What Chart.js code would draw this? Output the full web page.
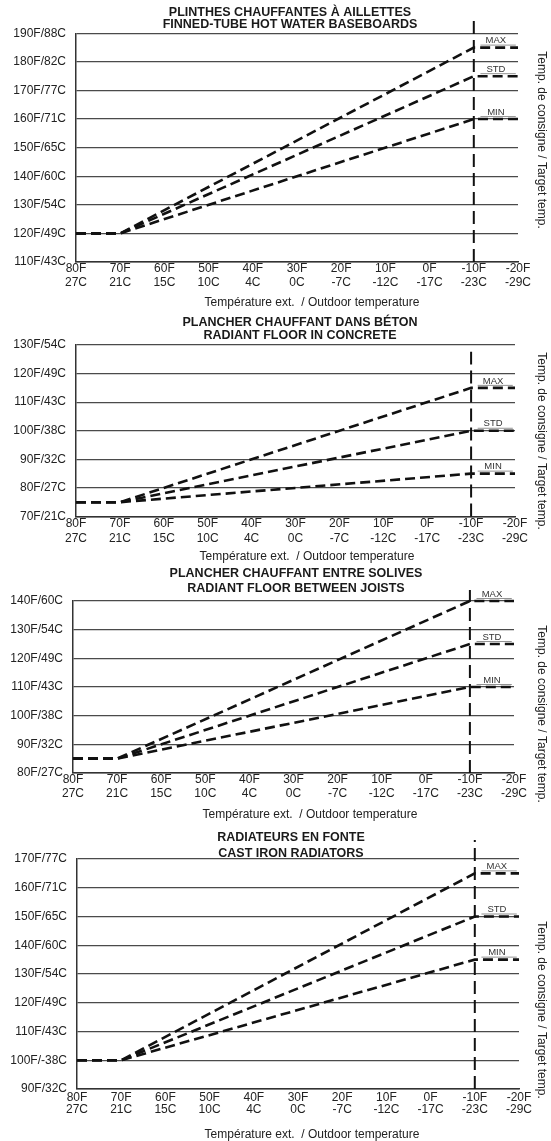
<!DOCTYPE html>
<html><head><meta charset="utf-8">
<script src="https://cdn.jsdelivr.net/npm/chart.js@4"></script>
<style>
html,body{margin:0;padding:0;background:#fff;}
body{width:551px;height:1141px;position:relative;overflow:hidden;}
.band{position:absolute;left:0;width:551px;}
canvas{display:block;}
</style></head><body>
<div class="band" style="top:0px"><canvas id="c1" width="551" height="312"></canvas></div>
<div class="band" style="top:312px"><canvas id="c2" width="551" height="253"></canvas></div>
<div class="band" style="top:565px"><canvas id="c3" width="551" height="260"></canvas></div>
<div class="band" style="top:825px"><canvas id="c4" width="551" height="316"></canvas></div>
<script>
// ---------- shared axis data ----------
const outdoorF = [80, 70, 60, 50, 40, 30, 20, 10, 0, -10, -20];
const outdoorFLabels = ['80F','70F','60F','50F','40F','30F','20F','10F','0F','-10F','-20F'];
const outdoorCLabels = ['27C','21C','15C','10C','4C','0C','-7C','-12C','-17C','-23C','-29C'];
const curveX = [80, 70, -10, -20];
const designTempF = -10;
const seriesNames = ['MAX', 'STD', 'MIN'];
const xAxisTitle = 'Température ext.  / Outdoor temperature';
const yAxisTitle = 'Temp. de consigne / Target temp.';

// ---------- chart 1 ----------
const baseTitle = ['PLINTHES CHAUFFANTES À AILLETTES', 'FINNED-TUBE HOT WATER BASEBOARDS'];
const baseTicks = [110, 120, 130, 140, 150, 160, 170, 180, 190];
const baseTickLabels = ['110F/43C','120F/49C','130F/54C','140F/60C','150F/65C','160F/71C','170F/77C','180F/82C','190F/88C'];
const baseMax = [120, 120, 185, 185];
const baseStd = [120, 120, 175, 175];
const baseMin = [120, 120, 160, 160];
const baseDesignTop = 195.3;

// ---------- chart 2 ----------
const concTitle = ['PLANCHER CHAUFFANT DANS BÉTON', 'RADIANT FLOOR IN CONCRETE'];
const concTicks = [70, 80, 90, 100, 110, 120, 130];
const concTickLabels = ['70F/21C','80F/27C','90F/32C','100F/38C','110F/43C','120F/49C','130F/54C'];
const concMax = [75, 75, 115, 115];
const concStd = [75, 75, 100, 100];
const concMin = [75, 75, 85, 85];
const concDesignTop = 127.6;

// ---------- chart 3 ----------
const joistTitle = ['PLANCHER CHAUFFANT ENTRE SOLIVES', 'RADIANT FLOOR BETWEEN JOISTS'];
const joistTicks = [80, 90, 100, 110, 120, 130, 140];
const joistTickLabels = ['80F/27C','90F/32C','100F/38C','110F/43C','120F/49C','130F/54C','140F/60C'];
const joistMax = [85, 85, 140, 140];
const joistStd = [85, 85, 125, 125];
const joistMin = [85, 85, 110, 110];
const joistDesignTop = 143.8;

// ---------- chart 4 ----------
const castTitle = ['RADIATEURS EN FONTE', 'CAST IRON RADIATORS'];
const castTicks = [90, 100, 110, 120, 130, 140, 150, 160, 170];
const castTickLabels = ['90F/32C','100F/-38C','110F/43C','120F/49C','130F/54C','140F/60C','150F/65C','160F/71C','170F/77C'];
const castMax = [100, 100, 165, 165];
const castStd = [100, 100, 150, 150];
const castMin = [100, 100, 135, 135];
const castDesignTop = 176.6;

const FONT = '"Liberation Sans", Arial, Helvetica, sans-serif';

function makeChart(id, spec) {
  const canvas = document.getElementById(id);
  const H = canvas.height;
  const yMin = spec.ticks[0], yMax = spec.ticks[spec.ticks.length - 1];
  const pts = arr => curveX.map((x, i) => ({ x: x, y: arr[i] }));
  const curveStyle = {
    borderColor: '#111', borderWidth: 2.6, borderDash: [10, 5],
    pointRadius: 0, fill: false, tension: 0, clip: false
  };
  const datasets = [
    Object.assign({ label: 'MAX', data: pts(spec.max) }, curveStyle),
    Object.assign({ label: 'STD', data: pts(spec.std) }, curveStyle),
    Object.assign({ label: 'MIN', data: pts(spec.min) }, curveStyle),
    { label: 'design', data: [{ x: designTempF, y: yMin }, { x: designTempF, y: spec.designTop }],
      borderColor: '#111', borderWidth: 2, borderDash: [13, 6], pointRadius: 0, clip: false }
  ];
  const textPlugin = {
    id: 'texts_' + id,
    afterDraw(chart) {
      const ctx = chart.ctx;
      const xs = chart.scales.x, ys = chart.scales.y;
      ctx.save();
      ctx.fillStyle = '#1a1a1a';
      ctx.textAlign = 'center';
      ctx.textBaseline = 'middle';
      ctx.font = 'bold 12.5px ' + FONT;
      spec.title.forEach((t, i) => ctx.fillText(t, spec.titleX, spec.titleY[i]));
      ctx.font = '12px ' + FONT;
      ctx.fillStyle = '#222';
      ctx.fillText(xAxisTitle, spec.xTitle[0], spec.xTitle[1]);
      ctx.save();
      ctx.translate(spec.yTitle[0], spec.yTitle[1]);
      ctx.rotate(Math.PI / 2);
      ctx.fillText(yAxisTitle, 0, 0);
      ctx.restore();
      // series labels above the flat segments
      ctx.font = '9.5px ' + FONT;
      ctx.fillStyle = '#333';
      const vals = [spec.max[3], spec.std[3], spec.min[3]];
      seriesNames.forEach((n, i) => {
        const py = ys.getPixelForValue(vals[i]);
        const px = xs.getPixelForValue(-15);
        ctx.fillText(n, px, py - 7);
        ctx.strokeStyle = '#777';
        ctx.lineWidth = 0.8;
        ctx.beginPath();
        ctx.moveTo(xs.getPixelForValue(-11.5), py - 2.5);
        ctx.lineTo(xs.getPixelForValue(-19.5), py - 2.5);
        ctx.stroke();
      });
      ctx.restore();
    }
  };
  return new Chart(canvas, {
    type: 'line',
    data: { datasets: datasets },
    options: {
      responsive: false,
      animation: false,
      events: [],
      layout: { padding: { top: spec.top, right: 551 - spec.right, bottom: 0, left: 0 } },
      plugins: { legend: { display: false }, tooltip: { enabled: false }, title: { display: false } },
      scales: {
        x: {
          type: 'linear', reverse: true, min: -20, max: 80,
          afterBuildTicks: s => { s.ticks = outdoorF.map(v => ({ value: v })); },
          afterFit: s => { s.height = H - spec.bottom; },
          grid: { display: false, drawTicks: false },
          border: { display: true, color: '#333', width: 1.5 },
          ticks: {
            autoSkip: false, maxRotation: 0, minRotation: 0, padding: spec.xPad,
            color: '#222', font: { family: FONT, size: 12, lineHeight: spec.xLine + 'px' },
            callback: v => { const k = outdoorF.indexOf(v); return [outdoorFLabels[k], outdoorCLabels[k]]; }
          }
        },
        y: {
          type: 'linear', min: yMin, max: yMax,
          afterBuildTicks: s => { s.ticks = spec.ticks.map(v => ({ value: v })); },
          afterFit: s => { s.width = spec.left; },
          grid: { display: true, drawTicks: false, color: '#4a4a4a', lineWidth: 1.3 },
          border: { display: true, color: '#333', width: 1.5 },
          ticks: {
            padding: 10, color: '#222', font: { family: FONT, size: 12 },
            callback: v => spec.tickLabels[spec.ticks.indexOf(v)]
          }
        }
      }
    },
    plugins: [textPlugin]
  });
}

makeChart('c1', { title: baseTitle, ticks: baseTicks, tickLabels: baseTickLabels,
  max: baseMax, std: baseStd, min: baseMin, designTop: baseDesignTop,
  left: 76, right: 518, top: 33.3, bottom: 262, xPad: 0, xLine: 14,
  titleX: 290, titleY: [13, 25], xTitle: [312, 303], yTitle: [541, 140] });

makeChart('c2', { title: concTitle, ticks: concTicks, tickLabels: concTickLabels,
  max: concMax, std: concStd, min: concMin, designTop: concDesignTop,
  left: 76, right: 515, top: 33, bottom: 204.5, xPad: 0, xLine: 15,
  titleX: 300, titleY: [11, 24], xTitle: [307, 245], yTitle: [541, 129] });

makeChart('c3', { title: joistTitle, ticks: joistTicks, tickLabels: joistTickLabels,
  max: joistMax, std: joistStd, min: joistMin, designTop: joistDesignTop,
  left: 73, right: 514, top: 36, bottom: 208, xPad: 0, xLine: 13.5,
  titleX: 296, titleY: [9, 24], xTitle: [310, 250], yTitle: [541, 149] });

makeChart('c4', { title: castTitle, ticks: castTicks, tickLabels: castTickLabels,
  max: castMax, std: castStd, min: castMin, designTop: castDesignTop,
  left: 77, right: 519, top: 34, bottom: 264, xPad: 2, xLine: 12.5,
  titleX: 291, titleY: [13, 29], xTitle: [312, 310], yTitle: [541, 185] });
</script>
</body></html>
